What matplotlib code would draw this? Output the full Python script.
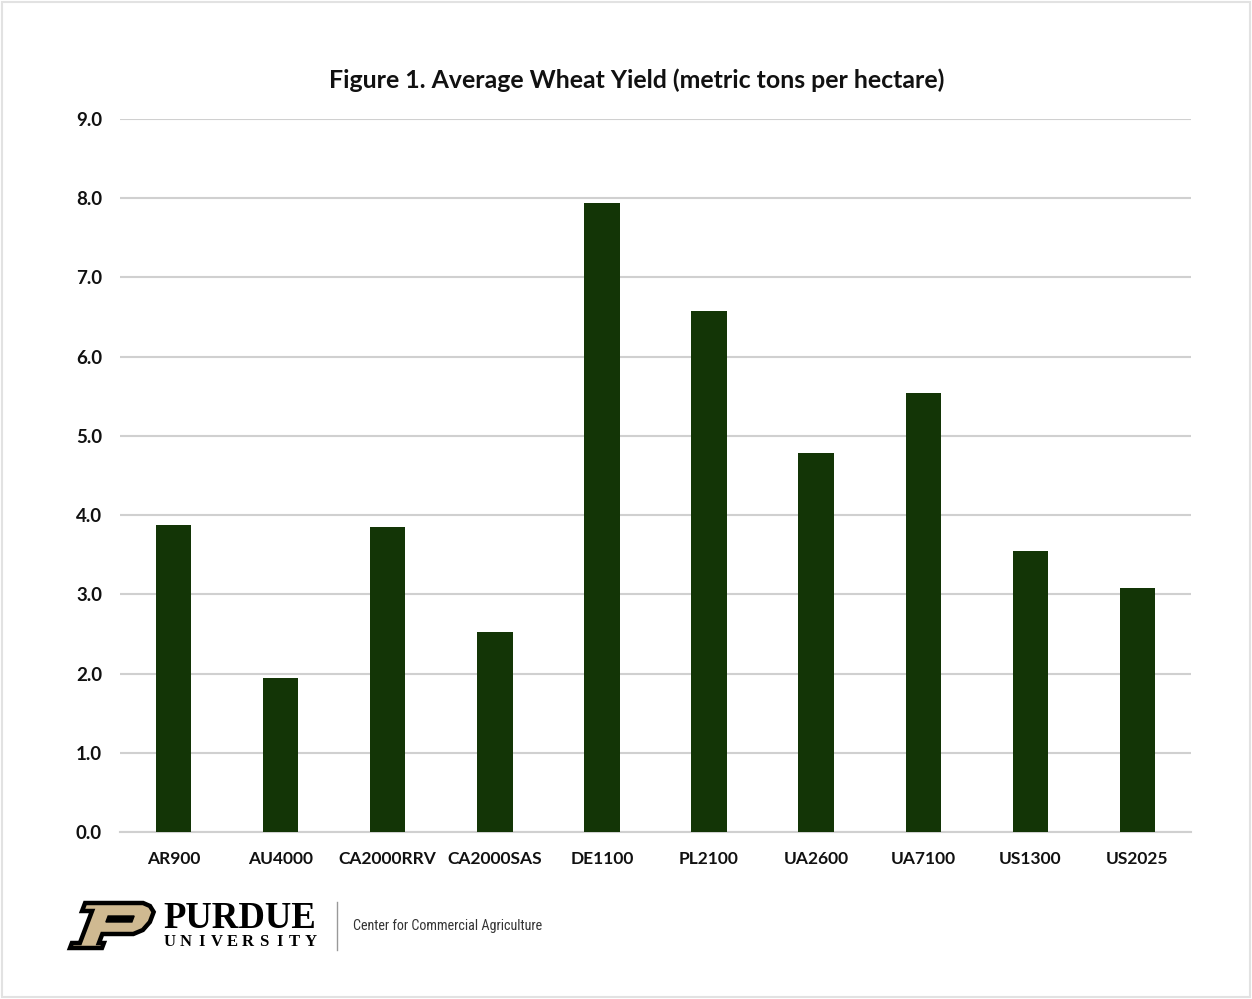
import matplotlib.pyplot as plt
import matplotlib.patches as patches
import numpy as np

# Average wheat yield by farm
farms = ["AR900", "AU4000", "CA2000RRV", "CA2000SAS", "DE1100",
         "PL2100", "UA2600", "UA7100", "US1300", "US2025"]
yields = [3.88, 1.95, 3.85, 2.52, 7.94, 6.58, 4.79, 5.54, 3.55, 3.08]
yticks = [0.0, 1.0, 2.0, 3.0, 4.0, 5.0, 6.0, 7.0, 8.0, 9.0]

bar_color = "#133506"
grid_color = "#d0d0d0"
gold = "#CFB991"

plt.rcParams['font.family'] = ['Lato', 'DejaVu Sans']

fig = plt.figure(figsize=(12.52, 9.99), dpi=100)
W, H = 1252, 999

# thin frame around the whole image
fig.patches.append(patches.Rectangle((2 / W, 2 / H), 1 - 4 / W, 1 - 4 / H,
                                     transform=fig.transFigure, fill=False,
                                     edgecolor="#e2e2e2", linewidth=1.5))

ax = fig.add_axes([120 / W, 1 - 832 / H, (1191 - 120) / W, (832 - 119) / H])
x = np.arange(len(farms))
ax.bar(x, yields, width=0.33, color=bar_color, zorder=3)

ax.set_xlim(-0.5, len(farms) - 0.5)
ax.set_ylim(0, 9)
ax.set_yticks(yticks)
ax.set_yticklabels([f"{v:.1f}" for v in yticks], fontsize=13.5,
                   fontweight="bold", color="#111111")
ax.set_xticks(x)
ax.set_xticklabels(farms, fontsize=12.5, fontweight="bold", color="#111111")
ax.tick_params(axis="both", length=0)
ax.tick_params(axis="y", pad=13)
ax.tick_params(axis="x", pad=14)
ax.yaxis.grid(True, color=grid_color, linewidth=1.5, zorder=0)
for side in ["top", "right", "left"]:
    ax.spines[side].set_visible(False)
ax.spines["bottom"].set_color(grid_color)
ax.spines["bottom"].set_linewidth(1.5)

fig.text(637 / W, 1 - 80 / H,
         "Figure 1. Average Wheat Yield (metric tons per hectare)",
         ha="center", va="center", fontsize=17.9, fontweight="bold",
         color="#111111")

# Purdue logo: slanted block P
lax = fig.add_axes([0, 0, 1, 1], zorder=5)
lax.set_xlim(0, W)
lax.set_ylim(H, 0)
lax.axis("off")


def slant(pts, x0, y0, shear=0.38):
    return [(x0 + px + shear * py, y0 - py) for px, py in pts]


p_outer = [(4, 0), (36, 0), (36, 5), (31, 5), (31, 14), (62, 14),
           (70, 18), (74, 26), (74, 36), (68, 42), (60, 45), (2, 45),
           (2, 37), (12, 37), (12, 5), (4, 5)]
p_slot = [(30, 26), (56, 26), (56, 32), (30, 32)]
lax.add_patch(patches.Polygon(slant(p_outer, 66, 948), closed=True,
                              facecolor=gold, edgecolor="black",
                              linewidth=3.2, joinstyle="miter"))
lax.add_patch(patches.Polygon(slant(p_slot, 66, 948), closed=True,
                              facecolor="black", edgecolor="black",
                              linewidth=1))

lax.text(163, 918, "PURDUE", fontsize=26.5, fontweight="bold",
         family="Liberation Serif", ha="left", va="center", color="black")
letters = "UNIVERSITY"
for i, ch in enumerate(letters):
    lax.text(170 + i * 15.6, 942, ch, fontsize=12, fontweight="bold",
             family="Liberation Serif", ha="center", va="center",
             color="black")
lax.plot([337, 337], [902, 950], color="#999999", linewidth=1)
lax.text(353, 926, "Center for Commercial Agriculture", fontsize=10.2,
         family=["Roboto Condensed", "DejaVu Sans Condensed",
                 "Liberation Sans Narrow", "DejaVu Sans"],
         ha="left", va="center", color="#333333")

fig.savefig("out.png", dpi=100)
